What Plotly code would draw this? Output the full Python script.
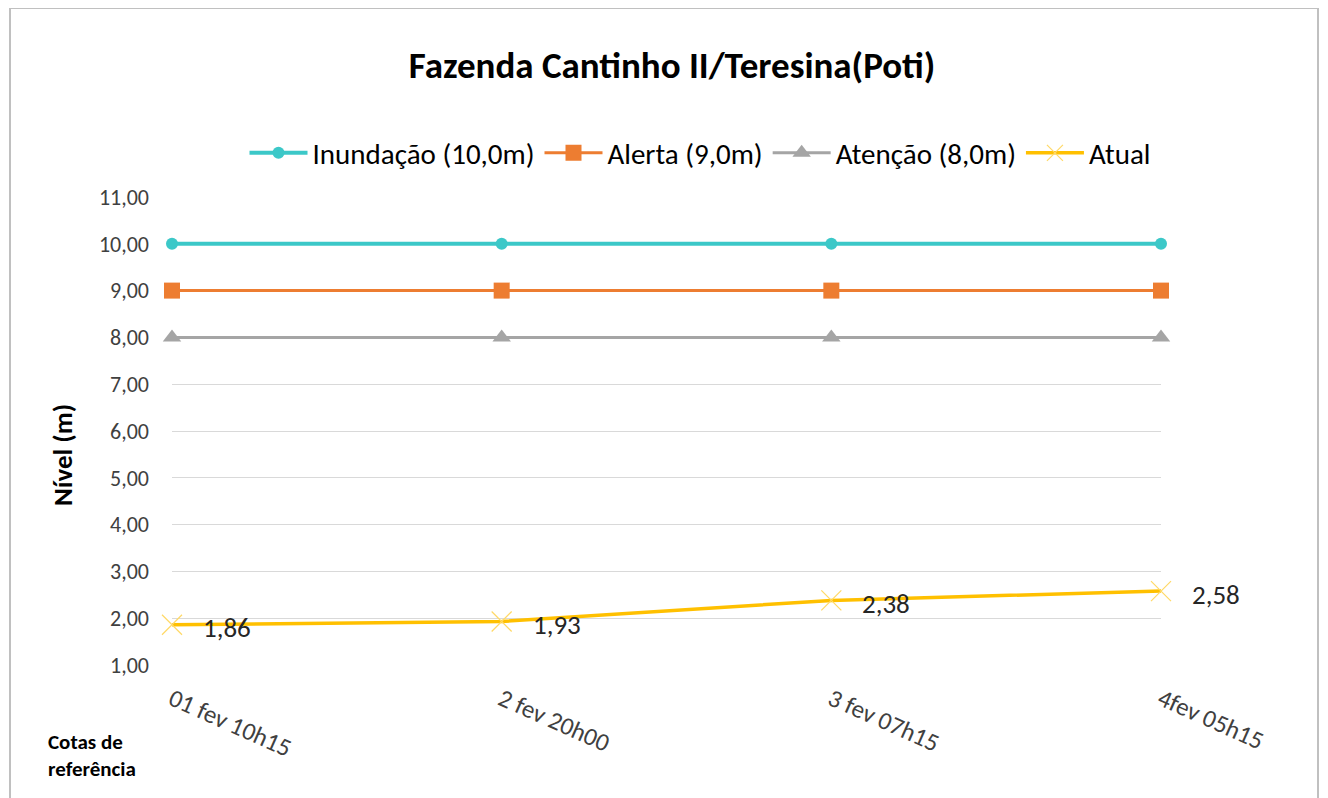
import plotly.graph_objects as go

categories = ["01 fev 10h15", "2 fev 20h00", "3 fev 07h15", "4fev 05h15"]
inundacao = [10.0, 10.0, 10.0, 10.0]
alerta = [9.0, 9.0, 9.0, 9.0]
atencao = [8.0, 8.0, 8.0, 8.0]
atual = [1.86, 1.93, 2.38, 2.58]
atual_labels = ["1,86", "1,93", "2,38", "2,58"]
y_ticks = [1, 2, 3, 4, 5, 6, 7, 8, 9, 10, 11]

FONT = "Carlito, Calibri, Lato, sans-serif"
xs = list(range(len(categories)))

OFF = 8  # page body margin
W, H = 1328, 798
L = 172 - OFF
R = W - (1161 - OFF)
T = 197 - OFF
B = H - (665 - OFF)
pw, ph = W - L - R, H - T - B


def px_x(p):
    return (p - OFF - L) / pw


def px_y(p):
    return (H - B - (p - OFF)) / ph


fig = go.Figure()
fig.add_trace(go.Scatter(
    x=xs, y=inundacao, name="Inundação (10,0m)", mode="lines+markers",
    line=dict(color="#3CC8C8", width=4),
    marker=dict(symbol="circle", size=12, color="#3CC8C8"),
    cliponaxis=False))
fig.add_trace(go.Scatter(
    x=xs, y=alerta, name="Alerta (9,0m)", mode="lines+markers",
    line=dict(color="#ED7D31", width=3),
    marker=dict(symbol="square", size=16, color="#ED7D31"),
    cliponaxis=False))
fig.add_trace(go.Scatter(
    x=xs, y=atencao, name="Atenção (8,0m)", mode="lines+markers",
    line=dict(color="#A5A5A5", width=3),
    marker=dict(symbol="triangle-up", size=16, color="#A5A5A5"),
    cliponaxis=False))
fig.add_trace(go.Scatter(
    x=xs, y=atual, name="Atual", mode="lines+markers",
    line=dict(color="#FFC000", width=3.5),
    marker=dict(symbol="x-thin", size=20, color="#FFD966",
                line=dict(color="#FFD966", width=1.2)),
    cliponaxis=False))

for xv, yv, lab in zip(xs, atual, atual_labels):
    fig.add_annotation(x=xv, y=yv, text=lab, xref="x", yref="y",
                       xanchor="left", yanchor="middle", xshift=29, yshift=-3,
                       showarrow=False,
                       font=dict(family=FONT, size=27, color="#262626"))

fig.update_layout(
    width=W, height=H,
    margin=dict(l=L, r=R, t=T, b=B),
    paper_bgcolor="white", plot_bgcolor="white",
    separators=",.",
    font=dict(family=FONT, color="#595959"),
    title=dict(text="<b>Fazenda Cantinho II/Teresina(Poti)</b>",
               x=px_x(672), xref="paper", xanchor="center",
               y=(H - (65 - OFF)) / H, yanchor="middle",
               font=dict(family=FONT, size=37, color="#000000")),
    showlegend=True,
    legend=dict(orientation="h", x=px_x(700), xanchor="center",
                y=px_y(153), yanchor="middle",
                font=dict(family=FONT, size=29, color="#000000"),
                itemwidth=58, traceorder="normal"),
    xaxis=dict(range=[0, 3], tickvals=xs, ticktext=categories,
               tickangle=24, showgrid=False, zeroline=False, showline=False,
               ticks="", ticklabelstandoff=14,
               tickfont=dict(family=FONT, size=25, color="#404040")),
    yaxis=dict(range=[1, 11], tickvals=y_ticks, tickformat=".2f",
               showgrid=True, gridcolor="#D9D9D9", gridwidth=1,
               zeroline=False, showline=False, ticks="",
               ticklabelstandoff=22,
               tickfont=dict(family=FONT, size=22, color="#404040")),
)

fig.add_annotation(text="<b>Nível (m)</b>", xref="paper", yref="paper",
                   x=px_x(62), y=px_y(455), xanchor="center", yanchor="middle",
                   textangle=-90, showarrow=False,
                   font=dict(family=FONT, size=27, color="#000000"))
fig.add_annotation(text="<b>Cotas de<br>referência</b>", xref="paper", yref="paper",
                   x=px_x(46), y=px_y(755), xanchor="left", yanchor="middle",
                   align="left", showarrow=False,
                   font=dict(family=FONT, size=21, color="#000000"))
fig.add_shape(type="rect", xref="paper", yref="paper",
              x0=px_x(10), x1=px_x(1318), y0=px_y(815), y1=px_y(8),
              line=dict(color="#C0C0C0", width=2), layer="below")

fig.write_html("out.html")
